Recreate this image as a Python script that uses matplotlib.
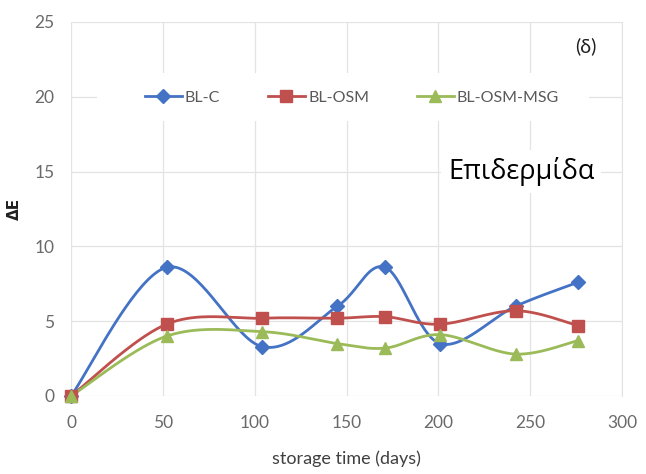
import numpy as np
import matplotlib
matplotlib.use("Agg")
import matplotlib.pyplot as plt
from matplotlib.lines import Line2D
from matplotlib.patches import Rectangle

days = [0, 52, 104, 145, 171, 201, 242, 276]
bl_c = [0.0, 8.6, 3.3, 6.0, 8.6, 3.5, 6.0, 7.6]
bl_osm = [0.0, 4.8, 5.2, 5.2, 5.3, 4.8, 5.7, 4.7]
bl_osm_msg = [0.0, 4.0, 4.3, 3.5, 3.2, 4.1, 2.8, 3.7]

series_names = ["BL-C", "BL-OSM", "BL-OSM-MSG"]
colors = ["#4472C4", "#C0504D", "#9BBB59"]
markers = ["D", "s", "^"]
msizes = [7.5, 9, 9]

x_ticks = [0, 50, 100, 150, 200, 250, 300]
y_ticks = [0, 5, 10, 15, 20, 25]

plt.rcParams['font.family'] = ['Lato', 'DejaVu Sans']


def smooth(x, y, n=40):
    """Bezier smoothing through every point (Catmull-Rom style tangents)."""
    p = np.column_stack([x, y]).astype(float)
    ext = np.vstack([p[0], p, p[-1]])
    out = [p[:1]]
    t = np.linspace(0, 1, n)[1:, None]
    for i in range(len(p) - 1):
        p0, p1, p2, p3 = ext[i], ext[i + 1], ext[i + 2], ext[i + 3]
        c1 = p1 + (p2 - p0) / 6
        c2 = p2 - (p3 - p1) / 6
        seg = ((1 - t) ** 3) * p1 + 3 * ((1 - t) ** 2) * t * c1 + 3 * (1 - t) * t ** 2 * c2 + t ** 3 * p2
        out.append(seg)
    a = np.vstack(out)
    return a[:, 0], a[:, 1]


fig = plt.figure(figsize=(6.46, 4.74), dpi=100)
ax = fig.add_axes([0.110, 0.1646, 0.853, 0.789])

for vals, name, c, m, ms in zip([bl_c, bl_osm, bl_osm_msg], series_names, colors, markers, msizes):
    sx, sy = smooth(days, vals)
    ax.plot(sx, sy, color=c, lw=2.0, zorder=3, solid_capstyle='round', clip_on=False)
    ax.plot(days, vals, linestyle='none', marker=m, color=c, markersize=ms, zorder=4,
            clip_on=False)

ax.set_xlim(0, 300)
ax.set_ylim(0, 25)
ax.set_xticks(x_ticks)
ax.set_yticks(y_ticks)
ax.grid(True, color='#E3E3E3', lw=0.9)
ax.set_axisbelow(True)
for s in ax.spines.values():
    s.set_visible(False)
ax.spines['right'].set_visible(True)
ax.spines['right'].set_color('#E3E3E3')
ax.tick_params(length=0, labelsize=12.5, colors='#6A6A6A')
ax.tick_params(axis='x', pad=14)
ax.tick_params(axis='y', pad=12)
ax.set_xlabel("storage time (days)", fontsize=13, color='#404040', labelpad=14)
ax.set_ylabel("ΔE", fontsize=11, fontweight='bold', color='#202020',
              family=['DejaVu Sans'])
ax.yaxis.set_label_coords(-0.089, 0.5)

# white band behind the legend, hiding the gridlines
ax.add_patch(Rectangle((14, 18.4), 268, 3.2, facecolor='white', edgecolor='none', zorder=2))
handles = [Line2D([0], [0], color=c, lw=2.0, marker=m, markersize=ms)
           for c, m, ms in zip(colors, markers, msizes)]
leg = ax.legend(handles, series_names, loc='center left', bbox_to_anchor=(0.134, 0.798), ncol=3,
                frameon=False, fontsize=11.5, handlelength=2.3, columnspacing=3.0,
                handletextpad=0.2, borderpad=0, borderaxespad=0)
for t in leg.get_texts():
    t.set_color('#595959')

ax.text(0.935, 0.935, "(δ)", transform=ax.transAxes, fontsize=14, color='#202020',
        ha='center', va='center')
ax.text(0.817, 0.6, "Επιδερμίδα", transform=ax.transAxes, fontsize=19.5, color='black',
        ha='center', va='center', family=['Open Sans', 'DejaVu Sans'],
        bbox=dict(facecolor='white', edgecolor='none', pad=5))

fig.savefig("out.png", dpi=100)
